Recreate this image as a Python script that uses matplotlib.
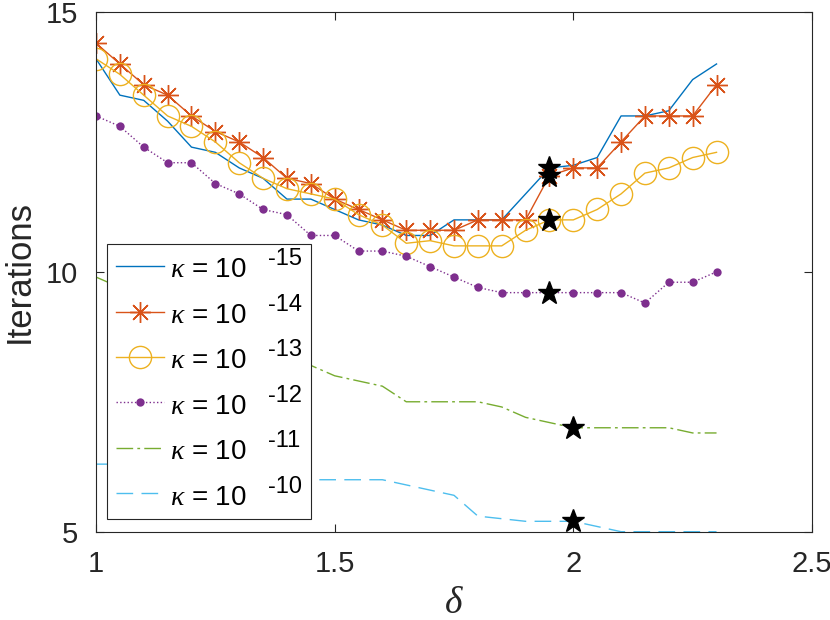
import numpy as np
import matplotlib
matplotlib.use("Agg")
from matplotlib import pyplot as plt
from matplotlib.patches import Rectangle

plt.rcParams['font.family'] = ['Liberation Sans', 'DejaVu Sans']
plt.rcParams['mathtext.fontset'] = 'custom'
plt.rcParams['mathtext.rm'] = 'Liberation Sans'
plt.rcParams['mathtext.it'] = 'Liberation Serif:italic'

# step sizes delta
delta = [1.00, 1.05, 1.10, 1.15, 1.20, 1.25, 1.30, 1.35, 1.40, 1.45,
         1.50, 1.55, 1.60, 1.65, 1.70, 1.75, 1.80, 1.85, 1.90, 1.95,
         2.00, 2.05, 2.10, 2.15, 2.20, 2.25, 2.30]

# iteration counts per kappa
it_15 = [14.1, 13.4, 13.3, 12.9, 12.4, 12.3, 12.0, 11.8, 11.4, 11.4,
         11.2, 11.0, 10.9, 10.7, 10.7, 11.0, 11.0, 11.0, 11.5, 12.0,
         12.05, 12.2, 13.0, 13.0, 13.1, 13.7, 14.0]
it_14 = [14.4, 14.0, 13.6, 13.4, 13.0, 12.7, 12.5, 12.2, 11.8, 11.7,
         11.4, 11.2, 11.0, 10.8, 10.8, 10.8, 11.0, 11.0, 11.0, 11.85,
         12.0, 12.0, 12.5, 13.0, 13.0, 13.0, 13.6]
it_13 = [14.1, 13.8, 13.4, 13.0, 12.8, 12.5, 12.1, 11.8, 11.6, 11.5,
         11.4, 11.1, 10.9, 10.55, 10.6, 10.5, 10.5, 10.5, 10.8, 11.0,
         11.0, 11.2, 11.5, 11.9, 12.0, 12.2, 12.3]
it_12 = [13.0, 12.8, 12.4, 12.1, 12.1, 11.7, 11.5, 11.2, 11.1, 10.7,
         10.7, 10.4, 10.4, 10.3, 10.1, 9.9, 9.7, 9.6, 9.6, 9.6,
         9.6, 9.6, 9.6, 9.4, 9.8, 9.8, 10.0]
it_11 = [9.9, 9.7, 9.5, 9.3, 9.1, 8.9, 8.7, 8.6, 8.4, 8.2,
         8.0, 7.9, 7.8, 7.5, 7.5, 7.5, 7.5, 7.4, 7.2, 7.1,
         7.0, 7.0, 7.0, 7.0, 7.0, 6.9, 6.9]
it_10 = [6.3, 6.3, 6.2, 6.2, 6.1, 6.1, 6.1, 6.0, 6.0, 6.0,
         6.0, 6.0, 6.0, 5.9, 5.8, 5.7, 5.3, 5.25, 5.2, 5.2,
         5.2, 5.1, 5.0, 5.0, 5.0, 5.0, 5.0]

# chosen (best) delta per kappa
best_delta = [1.95, 1.95, 1.95, 1.95, 2.00, 2.00]
best_iter = [12.0, 11.85, 11.0, 9.6, 7.0, 5.2]

exps = ['-15', '-14', '-13', '-12', '-11', '-10']
# base of legend label; the exponent is drawn on top of it afterwards
base_label = r'$\kappa$ = 10'

fig = plt.figure(figsize=(8.3, 6.2), dpi=100)
ax = fig.add_axes([96 / 830, 1 - 531.7 / 620, 716 / 830, 519.7 / 620])

lw = 1.0
ax.plot(delta, it_15, color='#0072BD', lw=lw, label=base_label)
ax.plot(delta, it_14, color='#D95319', lw=lw, marker=(8, 2, 0),
        markersize=15, markeredgewidth=1.0, label=base_label)
ax.plot(delta, it_13, color='#EDB120', lw=lw, marker='o', markersize=16,
        markerfacecolor='none', markeredgewidth=1.0, label=base_label)
ax.plot(delta, it_12, color='#7E2F8E', lw=lw, linestyle=':', marker='o',
        markersize=6, markeredgewidth=0, label=base_label)
ax.plot(delta, it_11, color='#77AC30', lw=lw, dashes=(12, 3, 2, 3),
        label=base_label)
ax.plot(delta, it_10, color='#4DBEEE', lw=lw, dashes=(12, 6),
        label=base_label)
ax.plot(best_delta, best_iter, linestyle='none', marker='*', color='k',
        markersize=17)

ax.set_xlim(1, 2.5)
ax.set_ylim(5, 15)
ax.set_xticks([1, 1.5, 2, 2.5])
ax.set_xticklabels(['1', '1.5', '2', '2.5'])
ax.set_yticks([5, 10, 15])
ax.tick_params(direction='in', length=6, width=0.8, top=True, right=True,
               labelsize=21, colors='#262626', pad=13)
for s in ax.spines.values():
    s.set_color('#262626')
    s.set_linewidth(0.8)
ax.set_ylabel('Iterations', fontsize=25, color='#262626', labelpad=7)
ax.set_xlabel(r'$\delta$', fontsize=27, color='#262626', labelpad=5)

# legend box drawn by hand so it can hold the raised exponents
box = Rectangle((0.0158, 0.0244), 0.2845, 0.5292, transform=ax.transAxes,
                facecolor='white', edgecolor='#262626', linewidth=0.8,
                zorder=4.5)
ax.add_patch(box)

leg = ax.legend(loc='lower left', bbox_to_anchor=(0.0158, 0.0244),
                borderaxespad=0, fontsize=20, handlelength=1.75,
                handleheight=1.1, labelspacing=0.6, handletextpad=0.2,
                borderpad=0.3, frameon=False)

# exponents, MATLAB style: raised and set apart from the "10"
for t, e in zip(leg.get_texts(), exps):
    ax.annotate(e, xy=(0, 0), xycoords=t, xytext=(71, 13),
                textcoords='offset points', ha='left', va='baseline',
                fontsize=17, color='k', zorder=6, annotation_clip=False)

plt.savefig("out.png", dpi=100)
